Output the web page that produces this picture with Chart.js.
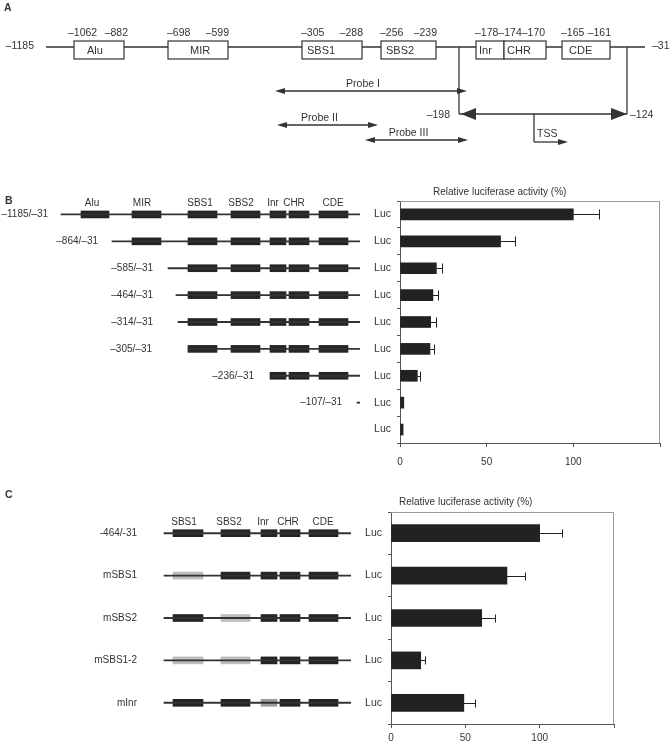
<!DOCTYPE html>
<html>
<head>
<meta charset="utf-8">
<script src="https://cdn.jsdelivr.net/npm/chart.js@4.4.0/dist/chart.umd.min.js"></script>
<style>
  html, body { margin: 0; padding: 0; background: #fff; }
  body { width: 669px; height: 741px; position: relative; overflow: hidden; }
  .panel { position: absolute; }
</style>
</head>
<body>
<div class="panel" style="left:0;top:0;width:669px;height:180px"><canvas id="mapA"></canvas></div>
<div class="panel" style="left:0;top:180px;width:360px;height:293px"><canvas id="constructsB"></canvas></div>
<div class="panel" style="left:360px;top:180px;width:309px;height:293px"><canvas id="barsB"></canvas></div>
<div class="panel" style="left:0;top:490px;width:351px;height:251px"><canvas id="constructsC"></canvas></div>
<div class="panel" style="left:351px;top:490px;width:318px;height:251px"><canvas id="barsC"></canvas></div>

<script>
// ---- data ----
// promoter elements (bp relative to ATG)
const elements = ['Alu', 'MIR', 'SBS1', 'SBS2', 'Inr', 'CHR', 'CDE'];
const elementFrom = [-1062, -698, -305, -256, -178, -174, -165];
const elementTo = [-882, -599, -288, -239, -174, -170, -161];
const promoterSpan = [-1185, -31];
const minimalPromoter = [-198, -124];
const probes = ['Probe I', 'Probe II', 'Probe III'];

// B: deletion constructs
const bConstructs = ['–1185/–31', '–864/–31', '–585/–31', '–464/–31', '–314/–31', '–305/–31', '–236/–31', '–107/–31', ''];
const bStartBp = [-1185, -864, -585, -464, -314, -305, -236, -107, null];
const bActivity = [100, 58, 21, 19, 17.7, 17.3, 10, 2.2, 1.8];
const bError = [15, 8.5, 3, 3, 2.8, 2.6, 1.3, 0, 0];

// C: mutant constructs
const cConstructs = ['-464/-31', 'mSBS1', 'mSBS2', 'mSBS1-2', 'mInr'];
const cMutated = [[], ['SBS1'], ['SBS2'], ['SBS1', 'SBS2'], ['Inr']];
const cActivity = [100, 78, 61, 20, 49];
const cError = [15, 12, 9, 3, 7.5];

const activityTicks = [0, 50, 100, 150];

// ---- layout (diagram units = px of each canvas) ----
const ink = '#333';
const boxInk = '#252525';
const fontFamily = '"Liberation Sans", Arial, Helvetica, sans-serif';

const aLine = { from: 46, to: 645, y: 47 };
const aBox = { top: 41, bottom: 59, textY: 51, numberY: 33 };
const aBoxX = { Alu: [74, 124], MIR: [168, 228], SBS1: [302, 362], SBS2: [381, 436], Inr: [476, 504], CHR: [504, 546], CDE: [562, 610] };
const aTextX = { Alu: 87, MIR: 190, SBS1: 307, SBS2: 386, Inr: 479, CHR: 507, CDE: 569 };
const aBracket = { x: [459, 627], y: 114 };
const aProbeX = [[275, 467], [277, 378], [365, 468]];
const aProbeY = [91, 125, 140];
const aTss = { x: 534, y: 142, to: 568 };

const bBoxX = { Alu: [81, 109], MIR: [132, 161], SBS1: [188, 217], SBS2: [231, 260], Inr: [270, 286], CHR: [289, 309], CDE: [319, 348] };
const bHeadX = { Alu: 92, MIR: 142, SBS1: 200, SBS2: 241, Inr: 273, CHR: 294, CDE: 333 };
const bLineFrom = [61, 112, 168, 176, 178, 188, 272, 357, null];
const bLineTo = 368;
const bLabelRight = [48, 98, 153, 153, 153, 152, 254, 342, 0];

const cBoxX = { SBS1: [173, 203], SBS2: [221, 250], Inr: [261, 277], CHR: [280, 300], CDE: [309, 338] };
const cHeadX = { SBS1: 184, SBS2: 229, Inr: 263, CHR: 288, CDE: 323 };
const cLineX = [164, 360];
const cLabelRight = 137;

Chart.defaults.font.family = fontFamily;
Chart.defaults.font.size = 10;
Chart.defaults.color = ink;
Chart.defaults.animation = false;

const bp = v => '–' + Math.abs(v);

function font(size, bold) {
    return (bold ? 'bold ' : '') + size + 'px ' + fontFamily;
}

function arrowHead(ctx, tipX, y, dir, len, half) {
    ctx.beginPath();
    ctx.moveTo(tipX, y);
    ctx.lineTo(tipX - dir * len, y - half);
    ctx.lineTo(tipX - dir * len, y + half);
    ctx.closePath();
    ctx.fill();
}

function segment(ctx, x0, y0, x1, y1) {
    ctx.beginPath();
    ctx.moveTo(x0, y0);
    ctx.lineTo(x1, y1);
    ctx.stroke();
}

// panel A: promoter map drawn through the chart's x/y scales
const promoterMap = {
    id: 'promoterMap',
    afterDraw(chart) {
        const { ctx, scales: { x, y } } = chart;
        const X = v => x.getPixelForValue(v);
        const Y = v => y.getPixelForValue(v);
        ctx.save();
        ctx.strokeStyle = ink;
        ctx.fillStyle = ink;
        ctx.lineWidth = 1.3;
        ctx.textBaseline = 'middle';

        ctx.font = font(10.5, true);
        ctx.textAlign = 'left';
        ctx.fillText('A', 4, 8);

        segment(ctx, X(aLine.from), Y(aLine.y), X(aLine.to), Y(aLine.y));
        ctx.font = font(10.5);
        ctx.textAlign = 'right';
        ctx.fillText(bp(promoterSpan[0]), X(aLine.from - 12), Y(aLine.y - 1));
        ctx.textAlign = 'left';
        ctx.fillText(bp(promoterSpan[1]), X(aLine.to + 7), Y(aLine.y - 1));

        // element boxes
        elements.forEach((name, e) => {
            const [x0, x1] = aBoxX[name];
            ctx.fillStyle = '#fff';
            ctx.fillRect(X(x0), Y(aBox.top), X(x1) - X(x0), Y(aBox.bottom) - Y(aBox.top));
            ctx.lineWidth = 1.2;
            ctx.strokeRect(X(x0), Y(aBox.top), X(x1) - X(x0), Y(aBox.bottom) - Y(aBox.top));
            ctx.fillStyle = ink;
            ctx.font = font(11);
            ctx.textAlign = 'left';
            ctx.fillText(name, X(aTextX[name]), Y(aBox.textY));
        });

        // coordinates above boxes (adjacent boxes share one run of text)
        ctx.font = font(10.5);
        let e = 0;
        while (e < elements.length) {
            let last = e;
            while (last + 1 < elements.length && elementTo[last] === elementFrom[last + 1]) last++;
            const x0 = aBoxX[elements[e]][0];
            const x1 = aBoxX[elements[last]][1];
            if (last > e) {
                let run = bp(elementFrom[e]);
                for (let k = e; k <= last; k++) run += bp(elementTo[k]);
                ctx.textAlign = 'left';
                ctx.fillText(run, X(x0 - 1), Y(aBox.numberY));
            } else {
                ctx.textAlign = 'left';
                ctx.fillText(bp(elementFrom[e]), X(x0 - (e === 0 ? 6 : 1)), Y(aBox.numberY));
                ctx.textAlign = 'right';
                ctx.fillText(bp(elementTo[e]), X(x1 + (e === 0 ? 4 : 1)), Y(aBox.numberY));
            }
            e = last + 1;
        }

        // minimal promoter bracket
        ctx.lineWidth = 1.3;
        const [bx0, bx1] = aBracket.x;
        segment(ctx, X(bx0), Y(aLine.y), X(bx0), Y(aBracket.y));
        segment(ctx, X(bx1), Y(aLine.y), X(bx1), Y(aBracket.y));
        segment(ctx, X(bx0), Y(aBracket.y), X(bx1), Y(aBracket.y));
        arrowHead(ctx, X(bx0 + 2), Y(aBracket.y), -1, 15, 6);
        arrowHead(ctx, X(bx1), Y(aBracket.y), 1, 16, 6);
        ctx.textAlign = 'right';
        ctx.fillText(bp(minimalPromoter[0]), X(bx0 - 9), Y(aBracket.y + 1));
        ctx.textAlign = 'left';
        ctx.fillText(bp(minimalPromoter[1]), X(bx1 + 3), Y(aBracket.y + 1));

        // TSS bent arrow
        segment(ctx, X(aTss.x), Y(aBracket.y), X(aTss.x), Y(aTss.y));
        segment(ctx, X(aTss.x), Y(aTss.y), X(aTss.to - 8), Y(aTss.y));
        arrowHead(ctx, X(aTss.to), Y(aTss.y), 1, 10, 3);
        ctx.fillText('TSS', X(aTss.x + 3), Y(aTss.y - 8));

        // probes
        probes.forEach((name, i) => {
            const [p0, p1] = aProbeX[i];
            const py = Y(aProbeY[i]);
            ctx.lineWidth = 1.3;
            segment(ctx, X(p0 + 6), py, X(p1 - 6), py);
            arrowHead(ctx, X(p0), py, -1, 10, 3);
            arrowHead(ctx, X(p1), py, 1, 10, 3);
            ctx.textAlign = 'center';
            ctx.fillText(name, X((p0 + p1) / 2 - 8), Y(aProbeY[i] - 7));
        });
        ctx.restore();
    }
};

new Chart(document.getElementById('mapA'), {
    type: 'scatter',
    data: { datasets: [] },
    options: {
        responsive: true,
        maintainAspectRatio: false,
        layout: { padding: 0 },
        scales: {
            x: { type: 'linear', min: 0, max: 669, display: false },
            y: { type: 'linear', min: 0, max: 180, reverse: true, display: false }
        },
        plugins: { legend: { display: false }, tooltip: { enabled: false } }
    },
    plugins: [promoterMap]
});

// construct labels + element headers for B and C
const constructText = {
    id: 'constructText',
    afterDatasetsDraw(chart, args, opts) {
        const { ctx, scales: { x, y } } = chart;
        ctx.save();
        ctx.fillStyle = ink;
        ctx.textBaseline = 'middle';
        ctx.font = font(10.5, true);
        ctx.textAlign = 'left';
        ctx.fillText(opts.letter, opts.letterX, opts.letterY);
        ctx.font = font(10);
        ctx.textAlign = 'right';
        chart.data.labels.forEach((t, i) => {
            if (t) ctx.fillText(t, x.getPixelForValue(opts.labelRight(i)), y.getPixelForValue(i));
        });
        ctx.textAlign = 'center';
        const headY = y.getPixelForValue(0) - 11;
        Object.keys(opts.headX).forEach(name => {
            ctx.fillText(name, x.getPixelForValue(opts.headX[name]), headY);
        });
        ctx.restore();
    }
};

function constructChart(id, labels, datasets, width, pad, textOpts) {
    return new Chart(document.getElementById(id), {
        type: 'bar',
        data: { labels, datasets },
        options: {
            indexAxis: 'y',
            responsive: true,
            maintainAspectRatio: false,
            layout: { padding: { top: pad.top, bottom: pad.bottom, left: 0, right: 0 } },
            scales: {
                x: { type: 'linear', min: 0, max: width, display: false },
                y: { display: false, offset: true }
            },
            plugins: { legend: { display: false }, tooltip: { enabled: false }, constructText: textOpts }
        },
        plugins: [constructText]
    });
}

// B constructs: an element is present when it lies downstream of the construct start
const bSets = [{
    data: bStartBp.map((s, i) => s === null ? null : [bLineFrom[i], bLineTo]),
    backgroundColor: ink, barThickness: 1.2, grouped: false
}].concat(elements.map((name, e) => ({
    data: bStartBp.map(s => (s !== null && elementFrom[e] >= s) ? bBoxX[name].slice() : null),
    backgroundColor: boxInk, barThickness: 7, grouped: false
})));

constructChart('constructsB', bConstructs, bSets, 360, { top: 21, bottom: 30 }, {
    letter: 'B', letterX: 5, letterY: 21,
    labelRight: i => bLabelRight[i],
    headX: bHeadX
});

// C constructs: elements of the -464/-31 construct, mutated ones in grey
const cElements = elements.filter((name, e) => elementFrom[e] >= -464);
const cSets = [{
    data: cConstructs.map(() => cLineX.slice()),
    backgroundColor: ink, barThickness: 1.2, grouped: false
}].concat(cElements.map(name => ({
    data: cConstructs.map(() => cBoxX[name].slice()),
    backgroundColor: cMutated.map(m => m.includes(name) ? (name === 'Inr' ? '#9c9c9c' : '#bdbdbd') : boxInk),
    barThickness: 7, grouped: false
})));

constructChart('constructsC', cConstructs, cSets, 351, { top: 22, bottom: 17 }, {
    letter: 'C', letterX: 5, letterY: 5,
    labelRight: () => cLabelRight,
    headX: cHeadX
});

// activity bar charts
const errorBars = {
    id: 'errorBars',
    afterDatasetsDraw(chart, args, opts) {
        const { ctx, scales: { x, y } } = chart;
        ctx.save();
        ctx.strokeStyle = '#222';
        ctx.lineWidth = 1;
        chart.data.datasets[0].data.forEach((v, i) => {
            const err = opts.errors[i];
            if (!err) return;
            const py = Math.round(y.getPixelForValue(i)) + 0.5;
            const x0 = x.getPixelForValue(v);
            const x1 = Math.round(x.getPixelForValue(v + err)) + 0.5;
            segment(ctx, x0, py, x1, py);
            segment(ctx, x1, py - opts.cap / 2, x1, py + opts.cap / 2);
        });
        ctx.restore();
    }
};

const frame = {
    id: 'frame',
    beforeDatasetsDraw(chart, args, opts) {
        const { ctx, chartArea: a } = chart;
        ctx.save();
        ctx.strokeStyle = '#9a9a9a';
        ctx.lineWidth = 1;
        ctx.beginPath();
        ctx.moveTo(a.left, a.top + 0.5);
        ctx.lineTo(a.right - 0.5, a.top + 0.5);
        ctx.lineTo(a.right - 0.5, a.bottom);
        ctx.stroke();
        ctx.fillStyle = ink;
        ctx.font = font(10);
        ctx.textBaseline = 'middle';
        ctx.textAlign = 'left';
        ctx.fillText(opts.text, a.left + opts.dx, a.top - opts.dy);
        ctx.restore();
    }
};

function activityChart(id, labels, values, errors, s) {
    return new Chart(document.getElementById(id), {
        type: 'bar',
        data: {
            labels,
            datasets: [{ data: values, backgroundColor: '#222', barThickness: s.bar }]
        },
        options: {
            indexAxis: 'y',
            responsive: true,
            maintainAspectRatio: false,
            layout: { padding: { top: s.top, right: s.right, left: 0, bottom: 0 } },
            scales: {
                x: {
                    min: activityTicks[0],
                    max: activityTicks[activityTicks.length - 1],
                    afterBuildTicks: axis => { axis.ticks = activityTicks.map(v => ({ value: v })); },
                    ticks: {
                        callback: v => v === 150 ? '' : v,
                        padding: s.tickPad,
                        font: { size: 10 },
                        color: ink
                    },
                    grid: { drawOnChartArea: false, tickLength: 4, color: '#555' },
                    border: { color: '#555' },
                    afterFit: axis => { axis.height = s.xHeight; }
                },
                y: {
                    ticks: { callback: () => 'Luc', padding: 6, font: { size: 10.5 }, color: ink },
                    grid: { drawOnChartArea: false, offset: true, tickLength: 3, color: '#555' },
                    border: { color: '#555' },
                    afterFit: axis => { axis.width = 40; }
                }
            },
            plugins: {
                legend: { display: false },
                tooltip: { enabled: false },
                errorBars: { errors, cap: s.cap },
                frame: { text: 'Relative luciferase activity (%)', dx: s.titleDx, dy: s.titleDy }
            }
        },
        plugins: [frame, errorBars]
    });
}

activityChart('barsB', bConstructs, bActivity, bError, {
    bar: 11, cap: 10, top: 21, right: 1, tickPad: 9, xHeight: 30, titleDx: 33, titleDy: 9
});

activityChart('barsC', cConstructs, cActivity, cError, {
    bar: 17, cap: 8, top: 22, right: 55, tickPad: 4, xHeight: 17, titleDx: 8, titleDy: 10
});
</script>
</body>
</html>
